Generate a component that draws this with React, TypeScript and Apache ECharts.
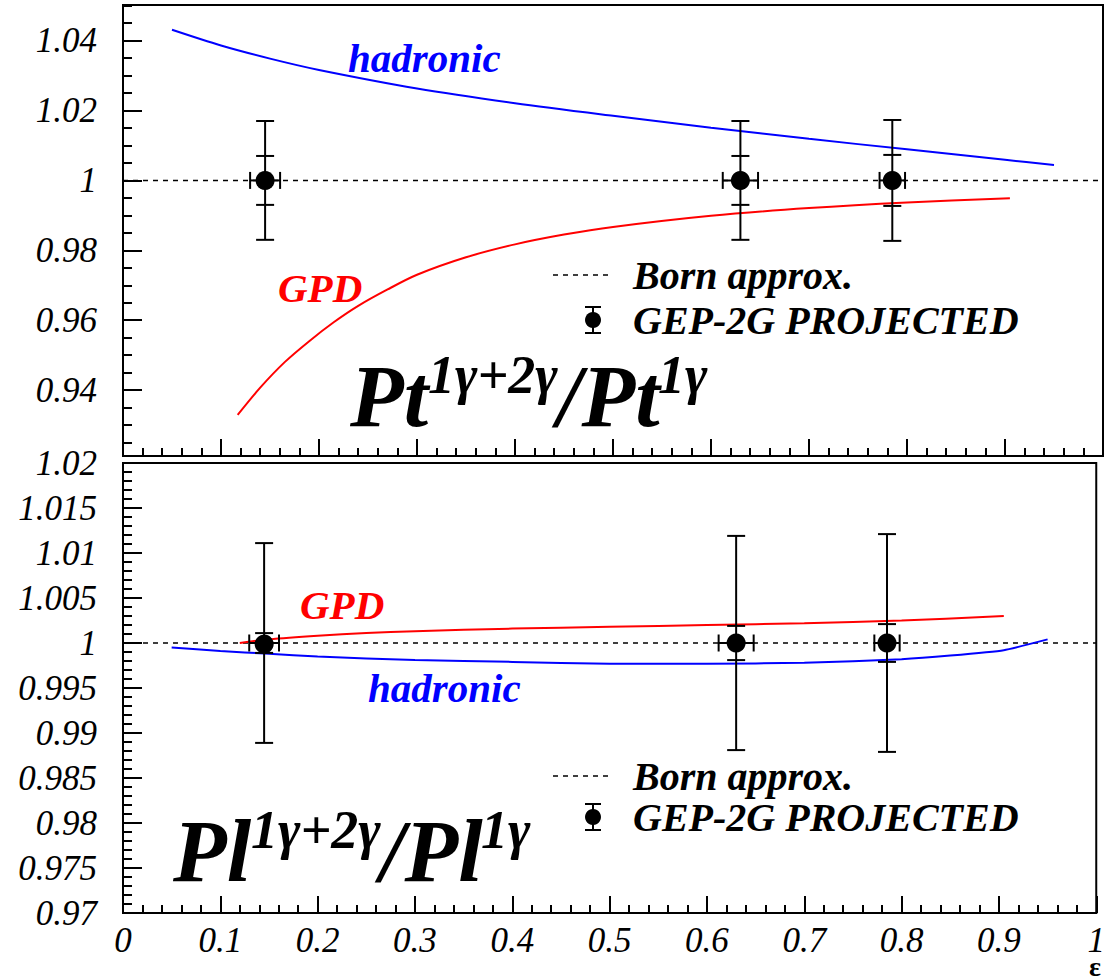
import React, { useEffect, useRef } from "react";
import * as echarts from "echarts";

// ---- data ----
const pointEps = [0.145, 0.63, 0.785];
const pointEpsErr = [0.0153, 0.018, 0.013];

const ptRatio = [1, 1, 1];
const ptErrTotal = [0.017, 0.017, 0.0173];
const ptErrStat = [0.007, 0.007, 0.0073];

const plRatio = [1, 1, 1];
const plErrTotal = [0.0111, 0.0119, 0.0121];
const plErrStat = [0.0011, 0.0019, 0.0021];

const bornEps = [0, 1];
const bornRatio = [1, 1];

const ptHadEps = [0.05, 0.1, 0.15, 0.2, 0.3, 0.4, 0.5, 0.6, 0.7, 0.8, 0.9, 0.95];
const ptHadVal = [1.0431, 1.0386, 1.03485, 1.0316, 1.0263, 1.0221, 1.0185, 1.0151, 1.0119, 1.0089, 1.0059, 1.0044];

const ptGpdEps = [0.117, 0.14, 0.165, 0.19, 0.215, 0.24, 0.27, 0.3, 0.35, 0.4, 0.45, 0.5, 0.6, 0.7, 0.8, 0.905];
const ptGpdVal = [0.9329, 0.9407, 0.948, 0.954, 0.9594, 0.9641, 0.9688, 0.973, 0.978, 0.9817, 0.9845, 0.9867, 0.9899, 0.9921, 0.9937, 0.9949];

const plHadEps = [0.05, 0.1, 0.15, 0.2, 0.3, 0.4, 0.5, 0.6, 0.7, 0.8, 0.85, 0.905, 0.95];
const plHadVal = [0.9995, 0.9991, 0.9988, 0.9985, 0.9981, 0.9979, 0.9977, 0.9977, 0.9978, 0.9982, 0.9986, 0.9992, 1.0004];

const plGpdEps = [0.12, 0.15, 0.2, 0.25, 0.3, 0.4, 0.5, 0.6, 0.7, 0.8, 0.905];
const plGpdVal = [1.0, 1.0004, 1.0008, 1.0011, 1.0013, 1.0016, 1.0018, 1.002, 1.0022, 1.0025, 1.003];

const xTickLabels = ["0", "0.1", "0.2", "0.3", "0.4", "0.5", "0.6", "0.7", "0.8", "0.9", "1"];

// ---- helpers ----
const zip = (a: number[], b: number[]) => a.map((v, i) => [v, b[i]]);
const SERIF = "Liberation Serif";
const BI = (s: number) => `italic bold ${s}px ${SERIF}`;

function errRenderItem(params: any, api: any) {
  const x = api.value(0), y = api.value(1), ex = api.value(2), eT = api.value(3), eS = api.value(4);
  const c = api.coord([x, y]);
  const tT = api.coord([x, y + eT]), bT = api.coord([x, y - eT]);
  const tS = api.coord([x, y + eS]), bS = api.coord([x, y - eS]);
  const l = api.coord([x - ex, y]), r = api.coord([x + ex, y]);
  const cap = 9;
  const st = { stroke: "#000", lineWidth: 2, fill: null };
  const line = (x1: number, y1: number, x2: number, y2: number) => ({ type: "line", shape: { x1, y1, x2, y2 }, style: st });
  return {
    type: "group",
    children: [
      line(c[0], tT[1], c[0], bT[1]),
      line(c[0] - cap, tT[1], c[0] + cap, tT[1]),
      line(c[0] - cap, bT[1], c[0] + cap, bT[1]),
      line(c[0] - cap, tS[1], c[0] + cap, tS[1]),
      line(c[0] - cap, bS[1], c[0] + cap, bS[1]),
      line(l[0], c[1], r[0], c[1]),
      line(l[0], c[1] - 8.5, l[0], c[1] + 8.5),
      line(r[0], c[1] - 8.5, r[0], c[1] + 8.5),
      { type: "circle", shape: { cx: c[0], cy: c[1], r: 9.5 }, style: { fill: "#000" } },
    ],
  };
}

const labelFmt = (step: number) => (v: number) => {
  const k = v / step;
  if (Math.abs(k - Math.round(k)) > 1e-6) return "";
  return String(parseFloat(v.toFixed(4)));
};

const axisLabelStyle = { fontFamily: SERIF, fontStyle: "italic", fontSize: 35, color: "#000" };

function xAxisCfg(gridIndex: number, showLabel: boolean) {
  return {
    type: "value", gridIndex, min: 0, max: 1, interval: 0.1,
    axisLine: { show: true, onZero: false, lineStyle: { color: "#000", width: 2 } },
    axisTick: { show: true, inside: true, length: 17, lineStyle: { color: "#000", width: 2 } },
    minorTick: { show: true, splitNumber: 5, length: 8, lineStyle: { color: "#000", width: 2 } },
    splitLine: { show: false }, minorSplitLine: { show: false },
    axisLabel: {
      show: showLabel, margin: 10, ...axisLabelStyle,
      formatter: (v: number) => xTickLabels[Math.round(v * 10)] ?? "",
    },
  };
}

const legendBlock = (x: number, y1: number, y2: number) => [
  { type: "line", shape: { x1: x - 80, y1: y1, x2: x - 22, y2: y1 }, style: { stroke: "#000", lineWidth: 1.5, lineDash: [5, 5] } },
  { type: "line", shape: { x1: x - 40, y1: y2 - 13, x2: x - 40, y2: y2 + 13 }, style: { stroke: "#000", lineWidth: 2 } },
  { type: "line", shape: { x1: x - 48, y1: y2 - 13, x2: x - 32, y2: y2 - 13 }, style: { stroke: "#000", lineWidth: 2 } },
  { type: "line", shape: { x1: x - 48, y1: y2 + 13, x2: x - 32, y2: y2 + 13 }, style: { stroke: "#000", lineWidth: 2 } },
  { type: "circle", shape: { cx: x - 40, cy: y2, r: 8 }, style: { fill: "#000" } },
  { type: "text", style: { text: "Born approx.", x, y: y1, font: BI(40), lineHeight: 30, fill: "#000", verticalAlign: "middle" } },
  { type: "text", style: { text: "GEP-2G PROJECTED", x, y: y2, font: BI(40), lineHeight: 30, fill: "#000", verticalAlign: "middle" } },
];

const titleBlock = (x0: number, base: number, main: string) => [
  { type: "text", style: { text: main, x: x0, y: base, font: BI(88), fill: "#000", verticalAlign: "bottom" } },
  { type: "text", style: { text: "1γ+2γ", x: x0 + 78, y: base - 38, font: BI(54), fill: "#000", verticalAlign: "bottom" } },
  { type: "text", style: { text: "/" + main, x: x0 + 207, y: base, font: BI(88), fill: "#000", verticalAlign: "bottom" } },
  { type: "text", style: { text: "1γ", x: x0 + 308, y: base - 38, font: BI(54), fill: "#000", verticalAlign: "bottom" } },
];

export default function App() {
  const ref = useRef<HTMLDivElement>(null);
  useEffect(() => {
    if (!ref.current) return;
    const chart = echarts.init(ref.current, undefined, { renderer: "svg" });
    const ptPoints = pointEps.map((e, i) => [e, ptRatio[i], pointEpsErr[i], ptErrTotal[i], ptErrStat[i]]);
    const plPoints = pointEps.map((e, i) => [e, plRatio[i], pointEpsErr[i], plErrTotal[i], plErrStat[i]]);
    const lineSeries = (xi: number, yi: number, data: number[][], color: string, extra: any = {}) => ({
      type: "line", xAxisIndex: xi, yAxisIndex: yi, data, showSymbol: false, symbol: "none",
      lineStyle: { color, width: 2, ...(extra.lineStyle || {}) }, smooth: extra.smooth ?? 0.3, silent: true, z: extra.z ?? 3,
    });
    const option: any = {
      animation: false,
      backgroundColor: "#fff",
      grid: [
        { left: 123, top: 5, width: 980, height: 451, show: true, borderColor: "#000", borderWidth: 2, backgroundColor: "transparent" },
        { left: 123, top: 463, width: 980, height: 450, show: true, borderColor: "#000", borderWidth: 2, backgroundColor: "transparent" },
      ],
      xAxis: [xAxisCfg(0, false), xAxisCfg(1, true)],
      yAxis: [
        {
          type: "value", gridIndex: 0, min: 0.92114, max: 1.0502, minInterval: 0.02, maxInterval: 0.02, splitNumber: 6,
          axisLine: { show: true, lineStyle: { color: "#000", width: 2 } },
          axisTick: { show: true, inside: true, length: 19, lineStyle: { color: "#000", width: 2 } },
          splitLine: { show: false },
          axisLabel: { margin: 26, ...axisLabelStyle, formatter: labelFmt(0.02) },
        },
        {
          type: "value", gridIndex: 0, position: "left", min: 0.92114, max: 1.0502, minInterval: 0.005, maxInterval: 0.005, splitNumber: 26,
          axisLine: { show: false },
          axisTick: { show: true, inside: true, length: 9, lineStyle: { color: "#000", width: 2 } },
          splitLine: { show: false }, axisLabel: { show: false },
        },
        {
          type: "value", gridIndex: 1, min: 0.97, max: 1.02, interval: 0.005,
          axisLine: { show: true, lineStyle: { color: "#000", width: 2 } },
          axisTick: { show: true, inside: true, length: 19, lineStyle: { color: "#000", width: 2 } },
          minorTick: { show: true, splitNumber: 5, length: 9, lineStyle: { color: "#000", width: 2 } },
          splitLine: { show: false }, minorSplitLine: { show: false },
          axisLabel: { margin: 26, ...axisLabelStyle, formatter: labelFmt(0.005) },
        },
      ],
      series: [
        lineSeries(0, 0, zip(bornEps, bornRatio), "#000", { lineStyle: { width: 1.5, type: [5, 5] }, smooth: false, z: 2 }),
        lineSeries(1, 2, zip(bornEps, bornRatio), "#000", { lineStyle: { width: 1.5, type: [5, 5] }, smooth: false, z: 2 }),
        lineSeries(0, 0, zip(ptHadEps, ptHadVal), "#0000ff"),
        lineSeries(0, 0, zip(ptGpdEps, ptGpdVal), "#ff0000"),
        lineSeries(1, 2, zip(plHadEps, plHadVal), "#0000ff", { smooth: 0.15 }),
        lineSeries(1, 2, zip(plGpdEps, plGpdVal), "#ff0000"),
        { type: "custom", xAxisIndex: 0, yAxisIndex: 0, data: ptPoints, renderItem: errRenderItem, z: 5, silent: true },
        { type: "custom", xAxisIndex: 1, yAxisIndex: 2, data: plPoints, renderItem: errRenderItem, z: 5, silent: true },
      ],
      graphic: [
        { type: "text", style: { text: "hadronic", x: 348, y: 58, font: BI(41), fill: "#0000ff", verticalAlign: "middle" } },
        { type: "text", style: { text: "GPD", x: 278, y: 288, font: BI(41), fill: "#ff0000", verticalAlign: "middle" } },
        { type: "text", style: { text: "GPD", x: 300, y: 605, font: BI(41), fill: "#ff0000", verticalAlign: "middle" } },
        { type: "text", style: { text: "hadronic", x: 368, y: 688, font: BI(41), fill: "#0000ff", verticalAlign: "middle" } },
        ...legendBlock(633, 275, 320),
        ...legendBlock(633, 776, 817),
        ...titleBlock(350, 440, "Pt"),
        ...titleBlock(173, 895, "Pl"),
        { type: "text", style: { text: "ε", x: 1089, y: 966, font: `bold 28px ${SERIF}`, lineHeight: 14, fill: "#000", verticalAlign: "middle" } },
      ],
    };
    chart.setOption(option);
    return () => chart.dispose();
  }, []);
  return <div ref={ref} style={{ position: "fixed", left: 0, top: 0, width: 1108, height: 977, background: "#fff" }} />;
}
